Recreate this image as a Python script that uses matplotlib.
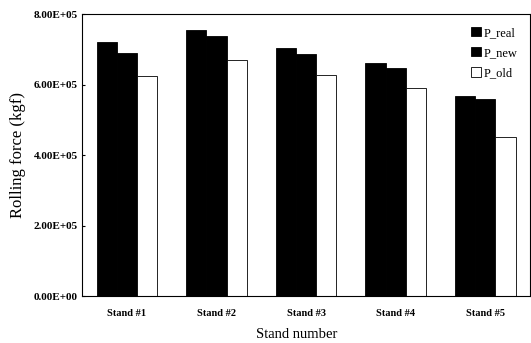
import numpy as np
import matplotlib.pyplot as plt

plt.rcParams['font.family'] = ['Liberation Serif', 'DejaVu Serif']

stands = ['Stand #1', 'Stand #2', 'Stand #3', 'Stand #4', 'Stand #5']
p_real = [7.20e5, 7.54e5, 7.04e5, 6.60e5, 5.67e5]
p_new = [6.90e5, 7.38e5, 6.86e5, 6.46e5, 5.59e5]
p_old = [6.23e5, 6.70e5, 6.27e5, 5.91e5, 4.52e5]
yticks = [0, 2e5, 4e5, 6e5, 8e5]
ytick_labels = ['0.00E+00', '2.00E+05', '4.00E+05', '6.00E+05', '8.00E+05']

fig = plt.figure(figsize=(5.31, 3.43), dpi=100)
ax = fig.add_axes([0.1544, 0.137, 0.8440, 0.822])

x = np.arange(len(stands))
w = 0.225
ax.bar(x - w, p_real, w, color='black', edgecolor='black', linewidth=0.6, label='P_real')
ax.bar(x, p_new, w, color='black', edgecolor='black', linewidth=0.6, label='P_new')
ax.bar(x + w, p_old, w, color='white', edgecolor='black', linewidth=0.6, label='P_old')

ax.set_xlim(-0.5, 4.5)
ax.set_ylim(0, 8e5)
ax.set_xticks(x)
ax.set_xticklabels(stands, fontsize=7.5, fontweight='bold')
ax.set_yticks(yticks)
ax.set_yticklabels(ytick_labels, fontsize=8, fontweight='bold')
ax.tick_params(axis='x', length=0, pad=9)
ax.tick_params(axis='y', length=2, direction='in', pad=3)
for s in ax.spines.values():
    s.set_linewidth(0.8)

ax.set_ylabel('Rolling force (kgf)', fontsize=12)
ax.yaxis.set_label_coords(-0.125, 0.5)
ax.set_xlabel('Stand number', fontsize=10.5)
ax.xaxis.set_label_coords(0.479, -0.115)

ax.legend(loc='upper right', frameon=False, fontsize=9, handlelength=0.8,
          handleheight=0.8, handletextpad=0.2, labelspacing=0.65,
          borderaxespad=0.6)

fig.savefig('out.png', dpi=100)
